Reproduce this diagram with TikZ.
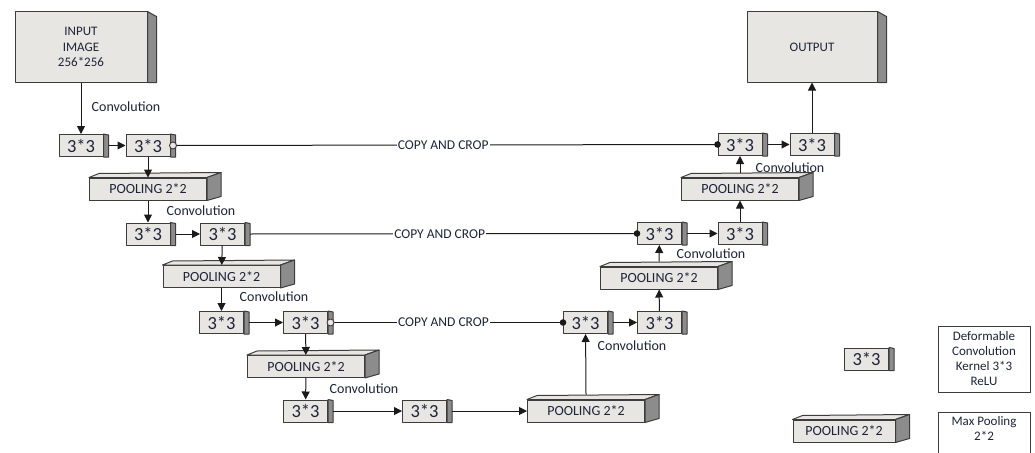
\documentclass[tikz,border=0pt]{standalone}
\usepackage{fontspec}
\setmainfont{Carlito}
\usetikzlibrary{arrows.meta,calc}
\definecolor{facec}{HTML}{E8E6E2}
\definecolor{sidec}{HTML}{8C8C8C}
\definecolor{edgec}{HTML}{3C3C3C}
\definecolor{txtc}{HTML}{1E2438}
\definecolor{linec}{HTML}{1A1A1A}
\tikzset{
  face/.style={draw=edgec, fill=facec, line width=1pt, text=txtc, inner sep=0pt, line join=round},
  kbox/.style={face, minimum width=44pt, minimum height=22pt, font=\fontsize{18.5}{18.5}\selectfont},
  pbox/.style={face, minimum width=117pt, minimum height=22pt, font=\fontsize{14}{14}\selectfont},
  bigbox/.style={face, minimum width=132pt, minimum height=70pt, align=center, font=\fontsize{13}{15.5}\selectfont},
  lbl/.style={text=txtc, font=\fontsize{14}{14}\selectfont, inner sep=0pt},
  legtxt/.style={text=txtc, align=center, font=\fontsize{13}{15}\selectfont, inner sep=0pt},
  flow/.style={line width=1pt, draw=linec, -{Triangle[length=8pt,width=8pt]}},
  link/.style={line width=1pt, draw=linec},
  sideface/.style={fill=sidec, draw=edgec, line width=1pt, line join=round},
  crop/.style={fill=white, text=txtc, font=\fontsize{13.5}{13.5}\selectfont, inner sep=1pt},
}
\newcommand{\kside}[1]{\filldraw[sideface] (#1.north east) -- ++(5,1) -- ($(#1.south east)+(5,0)$) -- (#1.south east) -- cycle;}
\newcommand{\pside}[1]{%
  \filldraw[face] (#1.north west) -- ++(10,-4) -- ($(#1.north east)+(14,-5)$) -- (#1.north east) -- cycle;
  \filldraw[sideface] (#1.north east) -- ++(14,-5) -- ($(#1.south east)+(14,-4)$) -- (#1.south east) -- cycle;}
\newcommand{\bside}[1]{\filldraw[sideface] (#1.north east) -- ++(9,5) -- ($(#1.south east)+(9,0)$) -- (#1.south east) -- cycle;}
\begin{document}
\begin{tikzpicture}[x=1pt,y=-1pt]
\useasboundingbox (0,0) rectangle (1035,452);
% big boxes
\node[bigbox] (in) at (81,47) {INPUT\\IMAGE\\256*256}; \bside{in}
\node[bigbox, minimum width=130pt] (out) at (812,47) {OUTPUT}; \bside{out}
% 3*3 boxes
\node[kbox] (a1) at (81,145.5) {3*3}; \kside{a1}
\node[kbox] (a2) at (148,145.5) {3*3}; \kside{a2}
\node[kbox] (c1) at (740,144.5) {3*3}; \kside{c1}
\node[kbox] (c2) at (812,144.5) {3*3}; \kside{c2}
\node[kbox] (b1) at (148,234) {3*3}; \kside{b1}
\node[kbox] (b2) at (222.5,234) {3*3}; \kside{b2}
\node[kbox] (d1) at (659.5,233.5) {3*3}; \kside{d1}
\node[kbox] (d2) at (740,233.5) {3*3}; \kside{d2}
\node[kbox] (e1) at (221.5,322.5) {3*3}; \kside{e1}
\node[kbox] (e2) at (305.5,322.5) {3*3}; \kside{e2}
\node[kbox] (f1) at (585.5,322.5) {3*3}; \kside{f1}
\node[kbox] (f2) at (659.5,322.5) {3*3}; \kside{f2}
\node[kbox] (g1) at (305.5,411) {3*3}; \kside{g1}
\node[kbox] (g2) at (424.5,411) {3*3}; \kside{g2}
% pooling boxes
\node[pbox] (p1) at (148,189) {POOLING 2*2}; \pside{p1}
\node[pbox] (p2) at (221.5,276.5) {POOLING 2*2}; \pside{p2}
\node[pbox] (p3) at (306,366.5) {POOLING 2*2}; \pside{p3}
\node[pbox] (p4) at (586,411) {POOLING 2*2}; \pside{p4}
\node[pbox] (q2) at (659,278) {POOLING 2*2}; \pside{q2}
\node[pbox] (q1) at (740,189) {POOLING 2*2}; \pside{q1}
% legend
\node[kbox] (lk) at (866.5,359) {3*3}; \kside{lk}
\node[pbox, minimum width=102pt] (lp) at (844,431) {POOLING 2*2}; \pside{lp}
\node[draw=edgec, line width=1pt, minimum width=92pt, minimum height=66pt, legtxt] (leg1) at (984,359) {Deformable\\Convolution\\Kernel 3*3\\ReLU};
\node[legtxt, anchor=north] (leg2) at (984,416) {Max Pooling\\2*2};
\coordinate (lgl) at (938,460);
\coordinate (lgtr) at (1030,412);
\coordinate (lgr) at (1030,460);
\draw[draw=edgec, line width=1pt] (lgl) |- (lgtr) -- (lgr);
% contracting path
\draw[flow] (in) -- (a1);
\draw[flow] ($(a1.east)+(5,0)$) -- (a2);
\draw[flow] (a2) -- (p1);
\draw[flow] (p1) -- (b1);
\draw[flow] ($(b1.east)+(5,0)$) -- (b2);
\draw[flow] (b2) -- (p2);
\draw[flow] (p2) -- (e1);
\draw[flow] ($(e1.east)+(5,0)$) -- (e2);
\draw[flow] (e2) -- (p3);
\draw[flow] (p3) -- (g1);
\draw[flow] ($(g1.east)+(5,0)$) -- (g2);
\draw[flow] ($(g2.east)+(5,0)$) -- (p4);
% expanding path
\draw[flow] ($(p4.north)+(0,-5)$) -- (f1);
\draw[flow] ($(f1.east)+(5,0)$) -- (f2);
\draw[flow] (f2) -- (q2);
\draw[flow] ($(q2.north)+(0,-5)$) -- (d1);
\draw[flow] ($(d1.east)+(5,0)$) -- (d2);
\draw[flow] (d2) -- (q1);
\draw[flow] ($(q1.north)+(0,-5)$) -- (c1);
\draw[flow] ($(c1.east)+(5,0)$) -- (c2);
\draw[flow] (c2) -- (out);
% copy and crop
\draw[link] ($(a2.east)+(6,0)$) -- node[crop, pos=0.493] {COPY AND CROP} (c1.west);
\draw[face, line width=0.9pt] ($(a2.east)+(2.5,0)$) circle (3.5);
\fill[linec] (c1.west) circle (3.3);
\draw[link] ($(b2.east)+(5,0)$) -- node[crop, pos=0.49] {COPY AND CROP} (d1.west);
\fill[linec] (d1.west) circle (3.3);
\draw[link] ($(e2.east)+(6,0)$) -- node[crop, pos=0.478] {COPY AND CROP} (f1.west);
\draw[face, line width=0.9pt] ($(e2.east)+(2.5,0)$) circle (3.5);
\fill[linec] (f1.west) circle (3.3);
% labels
\node[lbl] (l1) at (126,107) {Convolution};
\node[lbl] (l2) at (201,211) {Convolution};
\node[lbl] (l3) at (274,297) {Convolution};
\node[lbl] (l4) at (364,389) {Convolution};
\node[lbl] (l5) at (632,346) {Convolution};
\node[lbl] (l6) at (711,254) {Convolution};
\node[lbl] (l7) at (790,168) {Convolution};
\end{tikzpicture}
\end{document}
